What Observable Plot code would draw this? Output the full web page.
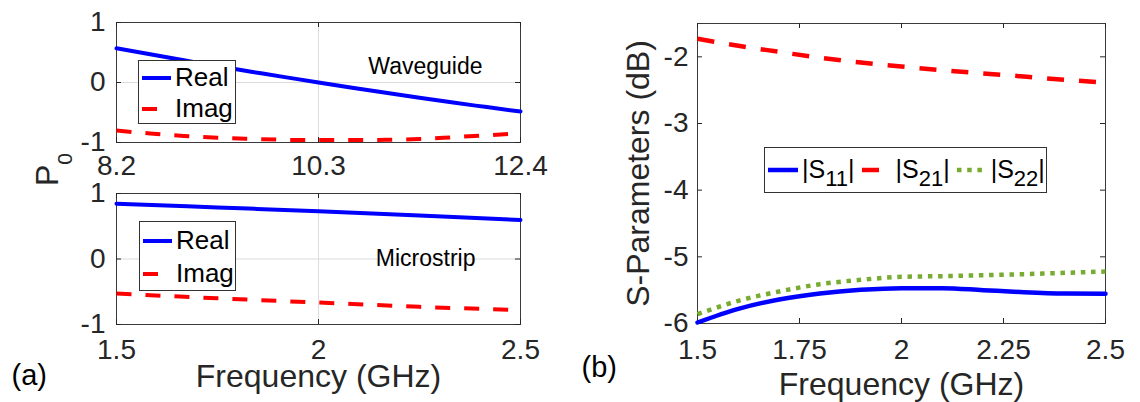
<!DOCTYPE html>
<html>
<head>
<meta charset="utf-8">
<script src="https://cdn.jsdelivr.net/npm/d3@7"></script>
<script src="https://cdn.jsdelivr.net/npm/@observablehq/plot@0.6"></script>
<style>
  html, body { margin: 0; padding: 0; background: #fff; }
  #fig { position: relative; width: 1140px; height: 402px; overflow: hidden; background: #fff;
         font-family: Arial, "Liberation Sans", Helvetica, sans-serif; color: #262626; }
  .pan { position: absolute; }
  .lg { position: absolute; box-sizing: border-box; border: 1px solid #333; background: #fff;
        color: #000; white-space: nowrap; }
  .lg .row { display: flex; align-items: center; }
  .lg svg { display: block; flex: none; }
  .sub { position: relative; }
  #p0 { position: absolute; transform-origin: 0 0; transform: rotate(-90deg);
        font-size: 32px; line-height: 32px; white-space: nowrap; color: #262626; }
</style>
</head>
<body>
<div id="fig"></div>
<script>
// ---------------- data ----------------
// (a) top: Waveguide
const wgFreq = [8.2, 8.55, 8.9, 9.25, 9.6, 9.95, 10.3, 10.65, 11.0, 11.35, 11.7, 12.05, 12.4];
const wgReal = [0.57, 0.47, 0.37, 0.27, 0.18, 0.09, 0.0, -0.087, -0.172, -0.255, -0.335, -0.41, -0.485];
const wgImag = [-0.80, -0.85, -0.89, -0.92, -0.94, -0.955, -0.96, -0.96, -0.955, -0.943, -0.912, -0.88, -0.845];
// (a) bottom: Microstrip
const msFreq = [1.5, 1.75, 2.0, 2.25, 2.5];
const msReal = [0.845, 0.787, 0.73, 0.665, 0.595];
const msImag = [-0.527, -0.6, -0.665, -0.73, -0.78];
// (b) S-parameters
const sFreq = [1.5, 1.6, 1.7, 1.8, 1.9, 2.0, 2.1, 2.2, 2.3, 2.4, 2.5];
const s11 = [-5.985, -5.78, -5.64, -5.55, -5.495, -5.47, -5.47, -5.5, -5.53, -5.55, -5.555];
const s21 = [-1.73, -1.835, -1.925, -2.015, -2.085, -2.145, -2.2, -2.25, -2.295, -2.345, -2.385];
const s22 = [-5.86, -5.66, -5.52, -5.41, -5.345, -5.30, -5.29, -5.275, -5.26, -5.24, -5.22];

// ticks and labels
const wgTicksX = [8.2, 10.3, 12.4];
const msTicksX = [1.5, 2, 2.5];
const pTicksY = [-1, 0, 1];
const sTicksX = [1.5, 1.75, 2, 2.25, 2.5];
const sTicksY = [-6, -5, -4, -3, -2];
const pSeries = ["Real", "Imag"];
const sSeries = ["|S11|", "|S21|", "|S22|"];
const xLabel = "Frequency (GHz)";
const sYLabel = "S-Parameters (dB)";
const wgNote = "Waveguide";
const msNote = "Microstrip";

// ---------------- styles ----------------
const FONT = 'Arial, "Liberation Sans", Helvetica, sans-serif';
const INK = "#262626";
const styleOf = {
  "Real":  {color: "#0000ff", dash: null,       width: 4},
  "Imag":  {color: "#ff0000", dash: "15,14",    width: 4},
  "|S11|": {color: "#0000ff", dash: null,       width: 4.5},
  "|S21|": {color: "#ff0000", dash: "17,15",    width: 4.5},
  "|S22|": {color: "#77ac30", dash: "4.5,5.7",  width: 4.5}
};

function rowsOf(freq, names, arrays) {
  const rows = [];
  names.forEach((n, k) => freq.forEach((f, i) => rows.push({f, v: arrays[k][i], s: n})));
  return rows;
}

function makePanel(c) {
  const W = c.width - c.mL - c.mR;
  const H = c.height - c.mT - c.mB;
  const marks = [];
  if (c.gridX) marks.push(Plot.gridX(c.gridX, {stroke: "#dcdcdc", strokeOpacity: 1, strokeWidth: 1}));
  if (c.gridY) marks.push(Plot.gridY(c.gridY, {stroke: "#dcdcdc", strokeOpacity: 1, strokeWidth: 1}));
  marks.push(Plot.frame({stroke: "#3a3a3a", strokeWidth: 1}));
  // inward ticks on all four sides
  marks.push(Plot.tickX(c.xTicks, {x: d => d, insetTop: H - 5, stroke: INK}));
  marks.push(Plot.tickX(c.xTicks, {x: d => d, insetBottom: H - 5, stroke: INK}));
  marks.push(Plot.tickY(c.yTicks, {y: d => d, insetRight: W - 5, stroke: INK}));
  marks.push(Plot.tickY(c.yTicks, {y: d => d, insetLeft: W - 5, stroke: INK}));
  c.names.forEach(n => {
    const st = styleOf[n];
    marks.push(Plot.line(c.rows.filter(r => r.s === n), {
      x: "f", y: "v", stroke: st.color, strokeWidth: st.width,
      strokeDasharray: st.dash || undefined,
      strokeLinecap: st.dash ? "butt" : "round", curve: "monotone-x"
    }));
  });
  marks.push(Plot.axisX(c.xTicks, {tickSize: 0, tickPadding: c.xPad, tickFormat: d => String(d),
    fontSize: 28, fill: INK, label: null}));
  marks.push(Plot.axisY(c.yTicks, {tickSize: 0, tickPadding: c.yPad, tickFormat: d => String(d),
    fontSize: 28, fill: INK, label: null}));
  (c.texts || []).forEach(t => marks.push(Plot.text([t.text], Object.assign({text: d => d, fill: INK, lineAnchor: "bottom"}, t.opts))));
  const svg = Plot.plot({
    width: c.width, height: c.height,
    marginLeft: c.mL, marginRight: c.mR, marginTop: c.mT, marginBottom: c.mB,
    x: {domain: c.xDomain}, y: {domain: c.yDomain},
    style: {fontFamily: FONT, color: INK, background: "transparent", overflow: "visible", maxWidth: "none"},
    marks
  });
  const holder = document.createElement("div");
  holder.className = "pan";
  holder.style.left = c.left + "px";
  holder.style.top = c.top + "px";
  holder.appendChild(svg);
  return holder;
}

function icon(name, w) {
  const ns = "http://www.w3.org/2000/svg";
  const st = styleOf[name];
  const svg = document.createElementNS(ns, "svg");
  svg.setAttribute("width", w); svg.setAttribute("height", 10);
  const l = document.createElementNS(ns, "line");
  l.setAttribute("x1", 0); l.setAttribute("x2", w);
  l.setAttribute("y1", 5); l.setAttribute("y2", 5);
  l.setAttribute("stroke", st.color); l.setAttribute("stroke-width", st.width);
  if (st.dash) l.setAttribute("stroke-dasharray", st.dash);
  svg.appendChild(l);
  return svg;
}

function labelNode(name, fs, subFs, subShift) {
  const span = document.createElement("span");
  span.style.fontSize = fs + "px";
  const m = name.match(/^\|S(\d+)\|$/);
  if (!m) { span.textContent = name; return span; }
  span.appendChild(document.createTextNode("|S"));
  const sub = document.createElement("span");
  sub.className = "sub";
  sub.style.fontSize = subFs + "px";
  sub.style.top = subShift + "px";
  sub.textContent = m[1];
  span.appendChild(sub);
  span.appendChild(document.createTextNode("|"));
  return span;
}

function vLegend(names, box, rowH) {
  const d = document.createElement("div");
  d.className = "lg";
  Object.assign(d.style, {left: box[0] + "px", top: box[1] + "px", width: box[2] + "px", height: box[3] + "px",
    paddingTop: box[4] + "px", paddingLeft: "3px"});
  names.forEach(n => {
    const r = document.createElement("div");
    r.className = "row";
    r.style.height = rowH + "px";
    const ic = icon(n, 29); ic.style.marginRight = "4px";
    r.appendChild(ic);
    const lb = labelNode(n, 26); lb.style.lineHeight = rowH + "px";
    r.appendChild(lb);
    d.appendChild(r);
  });
  return d;
}

const fig = document.getElementById("fig");

// (a) top panel: waveguide
fig.appendChild(makePanel({
  left: 0, top: 0, width: 560, height: 200, mL: 116, mR: 40, mT: 22, mB: 58,
  xDomain: [8.2, 12.4], yDomain: [-1, 1], xTicks: wgTicksX, yTicks: pTicksY,
  gridX: [10.3], gridY: [0], xPad: 13, yPad: 11,
  names: pSeries, rows: rowsOf(wgFreq, pSeries, [wgReal, wgImag]),
  texts: [{text: wgNote, opts: {frameAnchor: "top-right", textAnchor: "end", dx: -38, dy: 51, fontSize: 23, fill: "#000"}}]
}));

// (a) bottom panel: microstrip
fig.appendChild(makePanel({
  left: 0, top: 160, width: 560, height: 242, mL: 116, mR: 40, mT: 33, mB: 78,
  xDomain: [1.5, 2.5], yDomain: [-1, 1], xTicks: msTicksX, yTicks: pTicksY,
  gridX: [2], gridY: [0], xPad: 15, yPad: 11,
  names: pSeries, rows: rowsOf(msFreq, pSeries, [msReal, msImag]),
  texts: [
    {text: msNote, opts: {frameAnchor: "top-right", textAnchor: "end", dx: -45, dy: 72, fontSize: 23, fill: "#000"}},
    {text: xLabel, opts: {frameAnchor: "bottom", dy: 62, fontSize: 32}},
    {text: "(a)", opts: {frameAnchor: "bottom-left", textAnchor: "start", dx: -105, dy: 60, fontSize: 29, fill: "#000"}}
  ]
}));

// (b) S-parameters
fig.appendChild(makePanel({
  left: 560, top: 0, width: 580, height: 402, mL: 137, mR: 35, mT: 23, mB: 79,
  xDomain: [1.5, 2.5], yDomain: [-6, -1.5], xTicks: sTicksX, yTicks: sTicksY,
  xPad: 16, yPad: 9,
  names: sSeries, rows: rowsOf(sFreq, sSeries, [s11, s21, s22]),
  texts: [
    {text: xLabel, opts: {frameAnchor: "bottom", dy: 71, fontSize: 32}},
    {text: sYLabel, opts: {frameAnchor: "left", textAnchor: "middle", rotate: -90, dx: -49, fontSize: 32}},
    {text: "(b)", opts: {frameAnchor: "bottom-left", textAnchor: "start", dx: -116, dy: 53, fontSize: 29, fill: "#000"}}
  ]
}));

// legends
fig.appendChild(vLegend(pSeries, [138, 60, 98, 64, 1], 31));
fig.appendChild(vLegend(pSeries, [139, 221, 97, 70, 2], 33));

const sl = document.createElement("div");
sl.className = "lg";
Object.assign(sl.style, {left: "764px", top: "147px", width: "283px", height: "46px", paddingLeft: "3px"});
const slRow = document.createElement("div");
slRow.className = "row";
slRow.style.height = "44px";
sSeries.forEach((n, i) => {
  const ic = icon(n, 30); ic.style.marginRight = "4px";
  slRow.appendChild(ic);
  const lb = labelNode(n, 25, 22, 8);
  lb.style.lineHeight = "44px";
  if (i < sSeries.length - 1) lb.style.marginRight = "7px";
  slRow.appendChild(lb);
});
sl.appendChild(slRow);
fig.appendChild(sl);

// P0 label (rotated, with subscript)
const p0 = document.createElement("div");
p0.id = "p0";
p0.style.left = "31px";
p0.style.top = "186px";
p0.appendChild(document.createTextNode("P"));
const p0s = document.createElement("span");
p0s.className = "sub";
p0s.style.fontSize = "21px";
p0s.style.top = "14px";
p0s.textContent = "0";
p0.appendChild(p0s);
fig.appendChild(p0);
</script>
</body>
</html>
